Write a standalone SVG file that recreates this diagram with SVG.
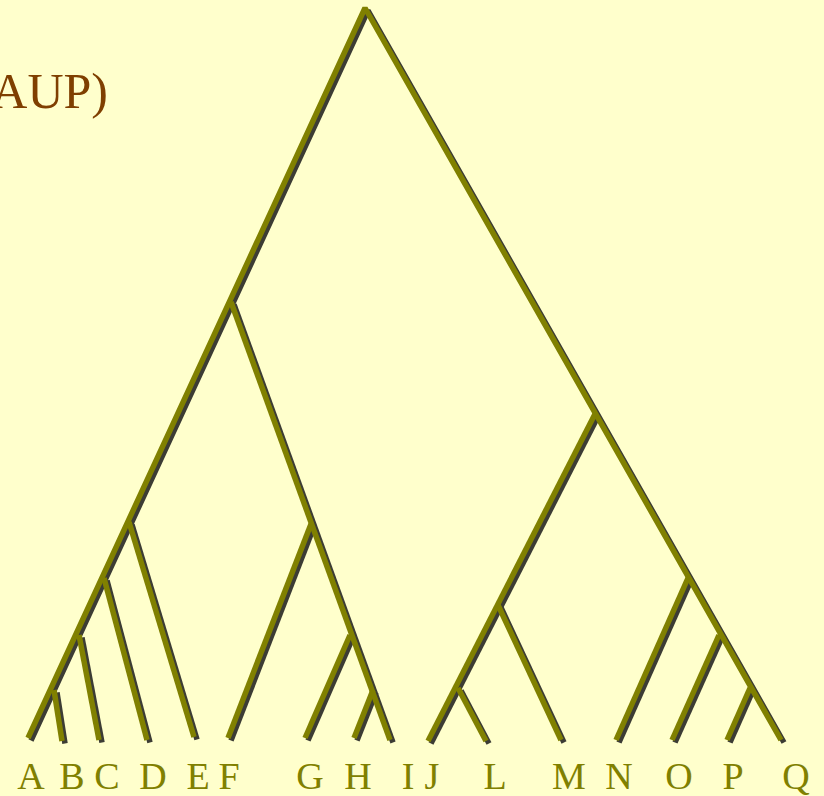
<svg xmlns="http://www.w3.org/2000/svg" width="824" height="796" viewBox="0 0 824 796">
<style>
.br{fill:none;stroke:#808000;stroke-width:5.5;stroke-linecap:butt;stroke-linejoin:bevel}
.sh{fill:none;stroke:#3c3c34;stroke-width:5.5;stroke-linecap:butt;stroke-linejoin:bevel}
.lab{font-family:"Liberation Serif",serif;font-size:38px;fill:#808000;text-anchor:middle}
.title{font-family:"Liberation Serif",serif;font-size:50px;fill:#7f3f00;text-anchor:end}
</style>
<defs>
<g id="tree">
<path d="M28,738 L365,8 L781,740"/>
<path d="M231,302 L390,740"/>
<path d="M311,524 L228,738"/>
<path d="M350,635 L305,738"/>
<path d="M373,690 L354,738"/>
<path d="M129,522 L194,737"/>
<path d="M104,578 L147,740"/>
<path d="M79,635 L99,740"/>
<path d="M54,690 L62,741"/>
<path d="M595,414 L428,741"/>
<path d="M498,605 L561,740"/>
<path d="M458,688 L486,741"/>
<path d="M688,578 L616,740"/>
<path d="M719,635 L672,740"/>
<path d="M750,688 L727,740"/>
</g>
</defs>
<rect width="824" height="796" fill="#ffffcc"/>
<text id="title" class="title" x="108" y="108">AUP)</text>
<g id="connectors">
<use href="#tree" class="sh" transform="translate(3,2.5)"/>
<use href="#tree" class="br"/>
</g>
<g id="labels">
<text id="nA" class="lab" x="31" y="789">A</text>
<text id="nB" class="lab" x="72" y="789">B</text>
<text id="nC" class="lab" x="107" y="789">C</text>
<text id="nD" class="lab" x="153" y="789">D</text>
<text id="nE" class="lab" x="198" y="789">E</text>
<text id="nF" class="lab" x="229" y="789">F</text>
<text id="nG" class="lab" x="310" y="789">G</text>
<text id="nH" class="lab" x="358" y="789">H</text>
<text id="nI" class="lab" x="408" y="789">I</text>
<text id="nJ" class="lab" x="432" y="789">J</text>
<text id="nL" class="lab" x="495" y="789">L</text>
<text id="nM" class="lab" x="569" y="789">M</text>
<text id="nN" class="lab" x="619" y="789">N</text>
<text id="nO" class="lab" x="679" y="789">O</text>
<text id="nP" class="lab" x="733" y="789">P</text>
<text id="nQ" class="lab" x="796" y="789">Q</text>
</g>
</svg>
